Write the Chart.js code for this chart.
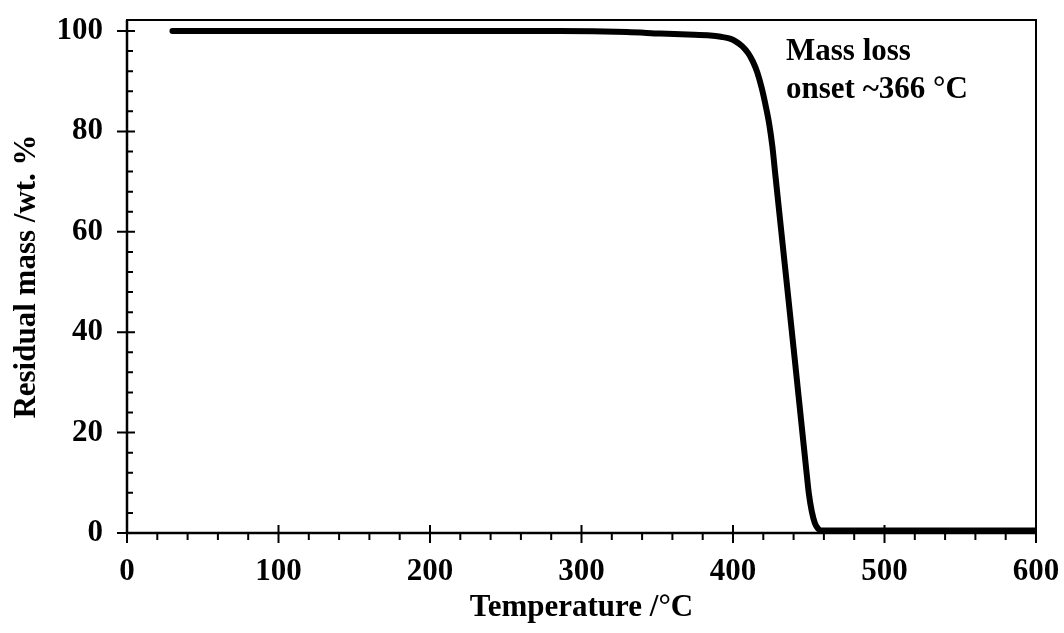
<!doctype html>
<html>

<head>
	<title>TGA curve</title>
	<script src="https://cdn.jsdelivr.net/npm/chart.js@4/dist/chart.umd.min.js"></script>
	<style>
		body { margin: 0; background: #fff; }
		#wrap { width: 1064px; height: 633px; }
	</style>
</head>

<body>
	<div id="wrap">
		<canvas id="canvas"></canvas>
	</div>
	<script>
		// temperature (°C) and residual mass (wt. %)
		const temperature = [30, 100, 200, 285, 330, 352, 370, 385, 392, 398, 402, 406, 410, 413, 416, 419, 422, 424, 426, 428, 434, 440, 446, 448.6, 450, 452, 454, 456, 458, 470, 500, 550, 600];
		const residualMass = [100, 100, 100, 100, 99.8, 99.5, 99.3, 99.1, 98.85, 98.5, 97.9, 97.0, 95.6, 94.0, 91.8, 88.6, 84.5, 81.3, 77.0, 71.2, 54.0, 36.8, 19.4, 11.9, 8.0, 4.3, 2.0, 0.9, 0.5, 0.5, 0.5, 0.5, 0.5];

		const xTicks = [0, 100, 200, 300, 400, 500, 600];
		const yTicks = [0, 20, 40, 60, 80, 100];
		const noteLines = ['Mass loss', 'onset ~366 °C'];

		const FONT = "'Liberation Serif', 'Times New Roman', serif";
		const SIZE = 31;

		// draws the box, axis lines, major (crossing) and minor ticks, and the note
		const frame = {
			id: 'frame',
			afterDraw(chart) {
				const { ctx, chartArea: a, scales: { x, y } } = chart;
				ctx.save();
				ctx.strokeStyle = '#000';
				ctx.lineWidth = 2;
				ctx.strokeRect(a.left, a.top, a.right - a.left, a.bottom - a.top);
				ctx.lineWidth = 2.5;
				ctx.beginPath();
				ctx.moveTo(a.left, a.top); ctx.lineTo(a.left, a.bottom); ctx.lineTo(a.right, a.bottom);
				ctx.stroke();

				ctx.lineWidth = 2;
				ctx.beginPath();
				for (let v = 0; v <= 600; v += 20) {
					const px = x.getPixelForValue(v);
					if (v % 100 === 0) { ctx.moveTo(px, a.bottom - 8); ctx.lineTo(px, a.bottom + 10); }
					else { ctx.moveTo(px, a.bottom); ctx.lineTo(px, a.bottom + 7); }
				}
				for (let v = 0; v <= 100; v += 4) {
					const py = y.getPixelForValue(v);
					if (v % 20 === 0) { ctx.moveTo(a.left - 10, py); ctx.lineTo(a.left + 8, py); }
					else { ctx.moveTo(a.left, py); ctx.lineTo(a.left + 6, py); }
				}
				ctx.stroke();

				ctx.fillStyle = '#000';
				ctx.font = 'bold ' + SIZE + 'px ' + FONT;
				ctx.textAlign = 'left';
				ctx.textBaseline = 'alphabetic';
				ctx.fillText(noteLines[0], x.getPixelForValue(435), y.getPixelForValue(94.2));
				ctx.fillText(noteLines[1], x.getPixelForValue(435), y.getPixelForValue(86.6));
				ctx.restore();
			}
		};

		const config = {
			type: 'line',
			data: {
				datasets: [{
					data: temperature.map((t, i) => ({ x: t, y: residualMass[i] })),
					borderColor: '#000',
					borderWidth: 6,
					borderCapStyle: 'round',
					borderJoinStyle: 'round',
					pointRadius: 0,
					cubicInterpolationMode: 'monotone',
					fill: false
				}]
			},
			options: {
				responsive: false,
				animation: false,
				layout: { padding: { left: 8, right: 28, top: 20, bottom: 6 } },
				plugins: { legend: { display: false }, tooltip: { enabled: false } },
				scales: {
					x: {
						type: 'linear',
						min: 0,
						max: 600,
						afterBuildTicks: (s) => { s.ticks = xTicks.map(v => ({ value: v })); },
						afterFit: (s) => { s.height = 94; s.paddingLeft = 0; s.paddingRight = 0; },
						grid: { display: false, drawTicks: false },
						border: { display: false },
						ticks: { color: '#000', padding: 20, maxRotation: 0, font: { family: FONT, size: SIZE, weight: 'bold' } },
						title: { display: true, text: 'Temperature /°C', color: '#000', padding: { top: 4, bottom: 0 }, font: { family: FONT, size: SIZE, weight: 'bold' } }
					},
					y: {
						min: 0,
						max: 102.2,
						afterBuildTicks: (s) => { s.ticks = yTicks.map(v => ({ value: v })); },
						afterFit: (s) => { s.width = 119; s.paddingTop = 0; s.paddingBottom = 0; },
						grid: { display: false, drawTicks: false },
						border: { display: false },
						ticks: { color: '#000', padding: 24, font: { family: FONT, size: SIZE, weight: 'bold' } },
						title: { display: true, text: 'Residual mass /wt. %', color: '#000', padding: { top: 0, bottom: 4 }, font: { family: FONT, size: SIZE, weight: 'bold' } }
					}
				}
			},
			plugins: [frame]
		};

		const cv = document.getElementById('canvas');
		cv.width = 1064;
		cv.height = 633;
		window.myChart = new Chart(cv, config);
	</script>
</body>

</html>
